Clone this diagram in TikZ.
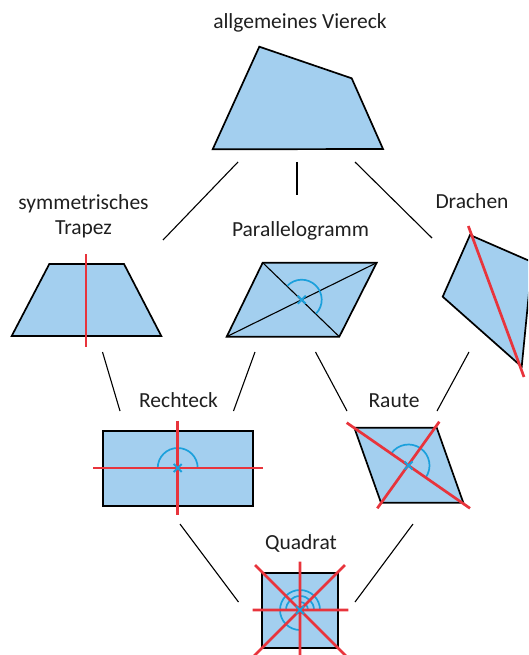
\documentclass[tikz,border=0pt]{standalone}
\usepackage{fontspec}
\setmainfont{Carlito}
\definecolor{flaeche}{HTML}{A3CFEF}
\definecolor{symrot}{HTML}{E8343C}
\definecolor{drehblau}{HTML}{1BA0DC}
\tikzset{
	figur/.style={draw=black, fill=flaeche, line width=1.7pt},
	symachse/.style={symrot, line width=2.7pt},
	drehbogen/.style={drehblau, line width=1.7pt},
	mittelkreuz/.style={drehblau, line width=1.9pt},
	verbindung/.style={black, line width=1.1pt},
	beschriftung/.style={anchor=base, inner sep=0pt, font=\fontsize{21.5}{25}\selectfont, text=black!88}
}
\begin{document}
\begin{tikzpicture}[x=1pt,y=-1pt]
	\useasboundingbox (0,0) rectangle (528,655);
	\clip (0,0) rectangle (528,655);

	% Beschriftungen
	\node[beschriftung] (viereck) at (300,29) {allgemeines Viereck};
	\node[beschriftung, align=center] (trapez) at (83.5,234) {symmetrisches\\Trapez};
	\node[beschriftung] (parallelogramm) at (300.5,236.5) {Parallelogramm};
	\node[beschriftung] (drachen) at (472,208.5) {Drachen};
	\node[beschriftung] (rechteck) at (178.5,407.5) {Rechteck};
	\node[beschriftung] (raute) at (394,407.5) {Raute};
	\node[beschriftung] (quadrat) at (301,549.5) {Quadrat};

	% Verbindungslinien
	\coordinate (v1) at (238,162);   \coordinate (t1) at (163,240);
	\coordinate (v2) at (297,162);   \coordinate (p1) at (297,195);
	\coordinate (v3) at (355,162);   \coordinate (d1) at (432,238);
	\coordinate (t2) at (102.5,352); \coordinate (r1) at (120,411);
	\coordinate (p2) at (255,352);   \coordinate (r2) at (233.5,411);
	\coordinate (p3) at (315.5,352); \coordinate (u1) at (347,411);
	\coordinate (d2) at (469,352);   \coordinate (u2) at (437,411);
	\coordinate (r3) at (180,524);   \coordinate (q1) at (238.5,602);
	\coordinate (u3) at (413,524);   \coordinate (q2) at (355,602);
	\foreach \a/\b in {v1/t1,v2/p1,v3/d1,t2/r1,p2/r2,p3/u1,d2/u2,r3/q1,u3/q2}
		\draw[verbindung] (\a) -- (\b);

	% allgemeines Viereck
	\draw[figur] (259.3,46.7) -- (351.7,78.3) -- (383,149) -- (212.7,149.3) -- cycle;

	% symmetrisches Trapez
	\draw[figur] (49.3,264) -- (124,264) -- (161.3,336) -- (11.7,336) -- cycle;
	\draw[symachse] (86,254) -- (86,347);

	% Parallelogramm
	\coordinate (pm) at (301.7,299.7);
	\draw[figur] (262.7,262.7) -- (376.7,262.7) -- (339.3,336.7) -- (226.7,336.7) -- cycle;
	\draw[verbindung] (262.7,262.7) -- (339.3,336.7) (226.7,336.7) -- (376.7,262.7);
	\draw[drehbogen] (pm) ++(44:20) arc[start angle=44, end angle=-136, radius=20];

	% Drachen
	\draw[figur] (470,235) -- (532,262) -- (521.7,366.7) -- (442.7,296.7) -- cycle;
	\draw[symachse] (468.3,226) -- (524,377);

	% Rechteck
	\coordinate (re) at (177.7,468);
	\draw[figur] (103.3,430.7) rectangle (253.3,506);
	\draw[drehbogen] (re) ++(0:20) arc[start angle=0, end angle=-180, radius=20];
	\draw[symachse] (93.3,468) -- (263.3,468) (177.7,420.7) -- (177.7,515);

	% Raute
	\coordinate (ra) at (408.5,465.5);
	\draw[figur] (354.3,427.7) -- (436.7,427.7) -- (463.3,502.7) -- (381,502.7) -- cycle;
	\draw[drehbogen] (ra) ++(35:21) arc[start angle=35, end angle=-145, radius=21];
	\draw[symachse] (346.7,422.7) -- (470,508.3) (439.3,421.7) -- (377.3,508.3);

	% Quadrat
	\coordinate (qu) at (300,610);
	\draw[figur] (262.3,572.7) rectangle (337.7,647.7);
	\draw[drehbogen] (qu) ++(0:8) arc[start angle=0, end angle=-90, radius=8];
	\draw[drehbogen] (qu) ++(0:14) arc[start angle=0, end angle=-180, radius=14];
	\draw[drehbogen] (qu) ++(0:20) arc[start angle=0, end angle=-270, radius=20];
	\draw[symachse] (252.7,610) -- (348.3,610) (300,561.7) -- (300,660)
		(255,565) -- (347,657) (345,565) -- (253,657);

	% Mittelpunkte
	\foreach \m in {pm,re,ra,qu}
		\draw[mittelkreuz] (\m) +(-4,-4) -- +(4,4) +(-4,4) -- +(4,-4);
\end{tikzpicture}
\end{document}
